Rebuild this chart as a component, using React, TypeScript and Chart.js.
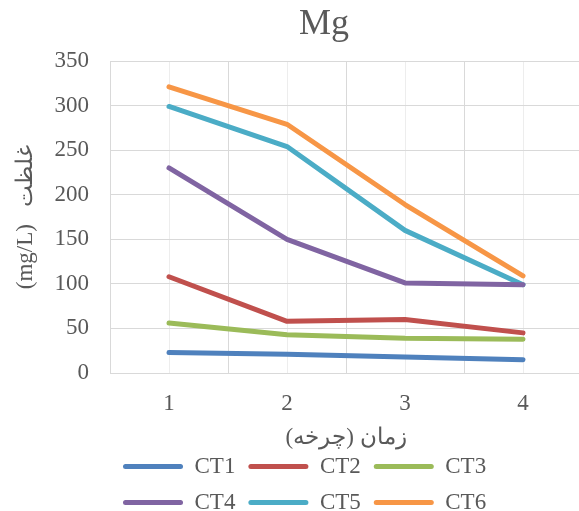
import React, { useEffect, useRef } from "react";
import { Chart, registerables } from "chart.js";

Chart.register(...registerables);

const categories = ["1", "2", "3", "4"];
const seriesNames = ["CT1", "CT2", "CT3", "CT4", "CT5", "CT6"];
const ct1 = [23, 21, 18, 15];
const ct2 = [108, 58, 60, 45];
const ct3 = [56, 43, 39, 38];
const ct4 = [230, 150, 101, 99];
const ct5 = [299, 254, 160, 99];
const ct6 = [321, 279, 189, 109];
const seriesValues = [ct1, ct2, ct3, ct4, ct5, ct6];
const seriesColors = ["#4F81BD", "#C0504D", "#9BBB59", "#8064A2", "#4BACC6", "#F79646"];

const yMin = 0;
const yMax = 350;
const yStep = 50;

const chartTitle = "Mg";
const xTitle = "زمان (چرخه)\u200F";
const yTitle = "(mg/L)   غلظت";

const serif = "'Liberation Serif', 'Times New Roman', serif";
const textColor = "#595959";
const gridColor = "#D9D9D9";

export default function App() {
  const ref = useRef<HTMLCanvasElement | null>(null);

  useEffect(() => {
    if (!ref.current) return;
    const chart = new Chart(ref.current, {
      type: "line",
      data: {
        labels: categories,
        datasets: seriesValues.map((d, i) => ({
          label: seriesNames[i],
          data: d,
          borderColor: seriesColors[i],
          backgroundColor: seriesColors[i],
          borderWidth: 5,
          pointRadius: 0,
          pointHoverRadius: 0,
          tension: 0,
          fill: false,
          borderCapStyle: "round",
          borderJoinStyle: "round",
          xAxisID: "x",
          yAxisID: "y",
        })),
      },
      options: {
        responsive: false,
        animation: false,
        devicePixelRatio: 1,
        layout: { padding: 0 },
        plugins: {
          title: {
            display: true,
            text: chartTitle,
            color: textColor,
            font: { family: serif, size: 36, weight: "normal", lineHeight: 1 },
            padding: { top: 7, bottom: 18 },
          },
          legend: {
            position: "bottom",
            align: "start",
            fullSize: false,
            labels: {
              font: { family: serif, size: 23 },
              color: textColor,
              boxWidth: 60,
              boxHeight: 5,
              padding: 13,
              useBorderRadius: true,
              borderRadius: 2.5,
              generateLabels: (c: any) =>
                (Chart.defaults.plugins.legend.labels as any)
                  .generateLabels(c)
                  .map((l: any) => ({ ...l, lineWidth: 0 })),
            },
          },
          tooltip: { enabled: false },
        },
        scales: {
          x: {
            type: "category",
            position: "bottom",
            offset: true,
            grid: { offset: true, color: gridColor, drawTicks: false },
            border: { color: gridColor },
            ticks: { color: textColor, font: { family: serif, size: 23 }, padding: 17 },
            title: {
              display: true,
              text: xTitle,
              color: textColor,
              font: { family: serif, size: 23, lineHeight: 1 },
              padding: { top: 0, bottom: -7 },
            },
            afterFit: (s: any) => {
              s.height = 69;
            },
          },
          xc: {
            type: "category",
            position: "top",
            offset: true,
            grid: { offset: false, color: "#EDEDED", drawTicks: false },
            border: { display: false },
            ticks: { display: false },
            afterFit: (s: any) => {
              s.height = 0;
            },
          },
          y: {
            type: "linear",
            position: "left",
            min: yMin,
            max: yMax,
            ticks: { stepSize: yStep, color: textColor, font: { family: serif, size: 23 }, padding: 21 },
            grid: { color: gridColor, drawTicks: false },
            border: { color: gridColor },
            title: {
              display: true,
              text: yTitle,
              color: textColor,
              font: { family: serif, size: 23, lineHeight: 1 },
              padding: { top: 14, bottom: 0 },
            },
            afterFit: (s: any) => {
              s.width = 110;
            },
          },
          y2: {
            type: "linear",
            position: "right",
            display: true,
            grid: { display: false },
            border: { display: false },
            ticks: { display: false },
            afterFit: (s: any) => {
              s.width = 66;
            },
          },
        },
      } as any,
    });
    return () => chart.destroy();
  }, []);

  return (
    <div
      style={{
        position: "absolute",
        left: 0,
        top: 0,
        width: 579,
        height: 511,
        overflow: "hidden",
        background: "#ffffff",
      }}
    >
      <canvas ref={ref} width={648} height={524} style={{ display: "block" }} />
    </div>
  );
}
